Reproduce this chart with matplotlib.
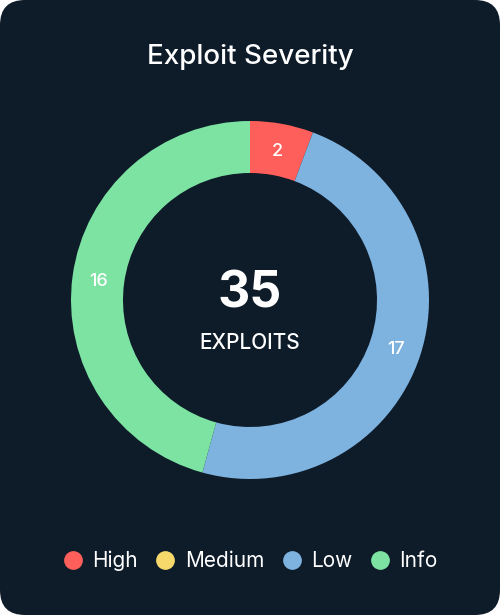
import numpy as np
import matplotlib.pyplot as plt
from matplotlib.patches import FancyBboxPatch

plt.rcParams['font.family'] = ['Inter', 'DejaVu Sans']

labels = ["High", "Medium", "Low", "Info"]
counts = [2, 0, 17, 16]
colors = ["#ff5f5a", "#f7d96b", "#7eb3e0", "#7de3a3"]
title = "Exploit Severity"
center_label = "EXPLOITS"

bg = "#0e1b29"

fig = plt.figure(figsize=(5, 6.15), dpi=100)
fig.patch.set_facecolor("white")

# rounded card behind everything
card = FancyBboxPatch((0, 0), 1, 1, boxstyle="round,pad=0,rounding_size=0.05",
                      transform=fig.transFigure, facecolor=bg, edgecolor="none",
                      mutation_aspect=500 / 615, zorder=-10)
fig.patches.append(card)

fig.text(0.5, 1 - 57 / 615, title, color="white", fontsize=20, fontweight="medium",
         ha="center", va="center")

# axes centred on (250, 300) px, outer radius ~179 px
R = 179
ax = fig.add_axes([(250 - R) / 500, 1 - (300 + R) / 615, 2 * R / 500, 2 * R / 615])
ax.set_facecolor("none")
ax.set_zorder(1)

total = sum(counts)
ax.pie(counts, colors=colors, startangle=90, counterclock=False,
       radius=1.0, wedgeprops=dict(width=52 / R, edgecolor="none"))
ax.set_aspect("equal")
ax.set_xlim(-1, 1)
ax.set_ylim(-1, 1)

start = 90.0
for c in counts:
    if c > 0:
        mid = np.deg2rad(start - c / total * 360 / 2)
        r = 1 - 26 / R
        ax.text(r * np.cos(mid), r * np.sin(mid) - 6.5 / R, str(c), color="white",
                fontsize=13, fontweight="medium", ha="center", va="baseline")
    start -= c / total * 360

ax.text(0, -7 / R, str(total), color="white", fontsize=36, fontweight="bold",
        ha="center", va="baseline")
ax.text(0, -49 / R, center_label, color="white", fontsize=15, fontweight="medium",
        ha="center", va="baseline")

# legend
handles = [plt.Line2D([], [], marker="o", linestyle="none", markersize=13.5,
                      markerfacecolor=c, markeredgecolor="none") for c in colors]
leg = fig.legend(handles, labels, loc="center", bbox_to_anchor=(0.5, 1 - 561 / 615),
                 ncol=4, frameon=False, fontsize=15, labelcolor="white",
                 handletextpad=0.45, columnspacing=0.8, handlelength=1.0)

fig.savefig("out.png", dpi=100, facecolor=fig.get_facecolor())
